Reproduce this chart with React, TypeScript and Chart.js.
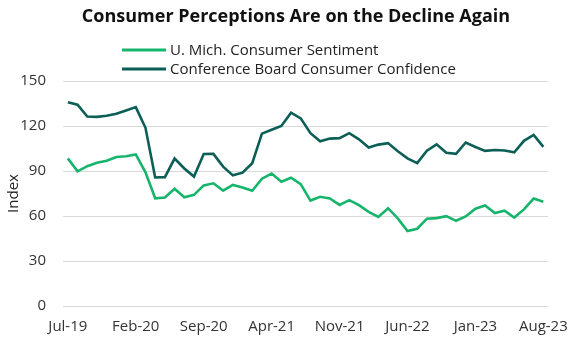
import React, { useEffect, useRef } from "react";
import { Chart, registerables } from "chart.js";

Chart.register(...registerables);

const months: string[] = [
  "Jul-19", "Aug-19", "Sep-19", "Oct-19", "Nov-19", "Dec-19",
  "Jan-20", "Feb-20", "Mar-20", "Apr-20", "May-20", "Jun-20", "Jul-20", "Aug-20", "Sep-20", "Oct-20", "Nov-20", "Dec-20",
  "Jan-21", "Feb-21", "Mar-21", "Apr-21", "May-21", "Jun-21", "Jul-21", "Aug-21", "Sep-21", "Oct-21", "Nov-21", "Dec-21",
  "Jan-22", "Feb-22", "Mar-22", "Apr-22", "May-22", "Jun-22", "Jul-22", "Aug-22", "Sep-22", "Oct-22", "Nov-22", "Dec-22",
  "Jan-23", "Feb-23", "Mar-23", "Apr-23", "May-23", "Jun-23", "Jul-23", "Aug-23",
];

const umichSentiment: number[] = [
  98.4, 89.8, 93.2, 95.5, 96.8, 99.3,
  99.8, 101.0, 89.1, 71.8, 72.3, 78.1, 72.5, 74.1, 80.4, 81.8, 76.9, 80.7,
  79.0, 76.8, 84.9, 88.3, 82.9, 85.5, 81.2, 70.3, 72.8, 71.7, 67.4, 70.6,
  67.2, 62.8, 59.4, 65.2, 58.4, 50.0, 51.5, 58.2, 58.6, 59.9, 56.8, 59.7,
  64.9, 67.0, 62.0, 63.5, 59.0, 64.4, 71.6, 69.5,
];

const confBoard: number[] = [
  135.8, 134.2, 126.3, 126.1, 126.8, 128.2,
  130.4, 132.6, 118.8, 85.7, 85.9, 98.3, 91.7, 86.3, 101.3, 101.4, 92.9, 87.1,
  88.9, 95.2, 114.9, 117.5, 120.0, 128.9, 125.1, 115.2, 109.8, 111.6, 111.9, 115.2,
  111.1, 105.7, 107.6, 108.6, 103.2, 98.4, 95.3, 103.6, 107.8, 102.2, 101.4, 109.0,
  106.0, 103.4, 104.0, 103.7, 102.5, 110.1, 114.0, 106.1,
];

const seriesNames: string[] = [
  "U. Mich. Consumer Sentiment",
  "Conference Board Consumer Confidence",
];

const titleText = "Consumer Perceptions Are on the Decline Again";
const yTitle = "Index";

const GREEN = "#17b56c";
const TEAL = "#0b5f57";
const FONT = "'Open Sans', 'Noto Sans', sans-serif";

const overlayPlugin = {
  id: "overlay",
  afterDraw(chart: any) {
    const ctx = chart.ctx as CanvasRenderingContext2D;
    ctx.save();
    ctx.fillStyle = "#111111";
    ctx.font = `bold 18px ${FONT}`;
    ctx.textAlign = "center";
    ctx.textBaseline = "middle";
    ctx.fillText(titleText, 296, 17);

    const colors = [GREEN, TEAL];
    const rows = [50, 69];
    ctx.font = `15px ${FONT}`;
    ctx.textAlign = "left";
    seriesNames.forEach((name, i) => {
      ctx.strokeStyle = colors[i];
      ctx.lineWidth = 3;
      ctx.beginPath();
      ctx.moveTo(122, rows[i]);
      ctx.lineTo(166, rows[i]);
      ctx.stroke();
      ctx.fillStyle = "#222222";
      ctx.fillText(name, 170, rows[i] + 1);
    });
    ctx.restore();
  },
};

export default function App() {
  const canvasRef = useRef<HTMLCanvasElement | null>(null);

  useEffect(() => {
    document.body.style.margin = "0";
    const canvas = canvasRef.current;
    if (!canvas) return;
    const chart = new Chart(canvas, {
      type: "line",
      data: {
        labels: months,
        datasets: [
          {
            label: seriesNames[0],
            data: umichSentiment,
            borderColor: GREEN,
            backgroundColor: GREEN,
            borderWidth: 2.6,
            pointRadius: 0,
            tension: 0,
          },
          {
            label: seriesNames[1],
            data: confBoard,
            borderColor: TEAL,
            backgroundColor: TEAL,
            borderWidth: 2.6,
            pointRadius: 0,
            tension: 0,
          },
        ],
      },
      options: {
        responsive: true,
        maintainAspectRatio: false,
        animation: false,
        layout: { padding: { top: 81, right: 24, bottom: 2, left: 4 } },
        plugins: {
          legend: { display: false },
          title: { display: false },
          tooltip: { enabled: false },
        },
        scales: {
          x: {
            offset: true,
            grid: { display: false, drawTicks: false },
            border: { display: false },
            ticks: {
              autoSkip: false,
              maxRotation: 0,
              minRotation: 0,
              padding: 12,
              color: "#333333",
              font: { family: FONT, size: 15 },
              callback: (_v: any, i: number) => (i % 7 === 0 ? months[i] : ""),
            },
          },
          y: {
            min: 0,
            max: 150,
            afterFit: (scale: any) => {
              scale.width = 59;
            },
            grid: { color: "#d9d9d9", lineWidth: 1, drawTicks: false },
            border: { display: false },
            ticks: {
              stepSize: 30,
              padding: 17,
              color: "#333333",
              font: { family: FONT, size: 15 },
            },
            title: {
              display: true,
              text: yTitle,
              color: "#222222",
              font: { family: FONT, size: 15 },
              padding: { top: 1, bottom: 0 },
            },
          },
        },
      },
      plugins: [overlayPlugin],
    });
    return () => chart.destroy();
  }, []);

  return (
    <div style={{ width: 580, height: 350, position: "relative" }}>
      <canvas ref={canvasRef} />
    </div>
  );
}
